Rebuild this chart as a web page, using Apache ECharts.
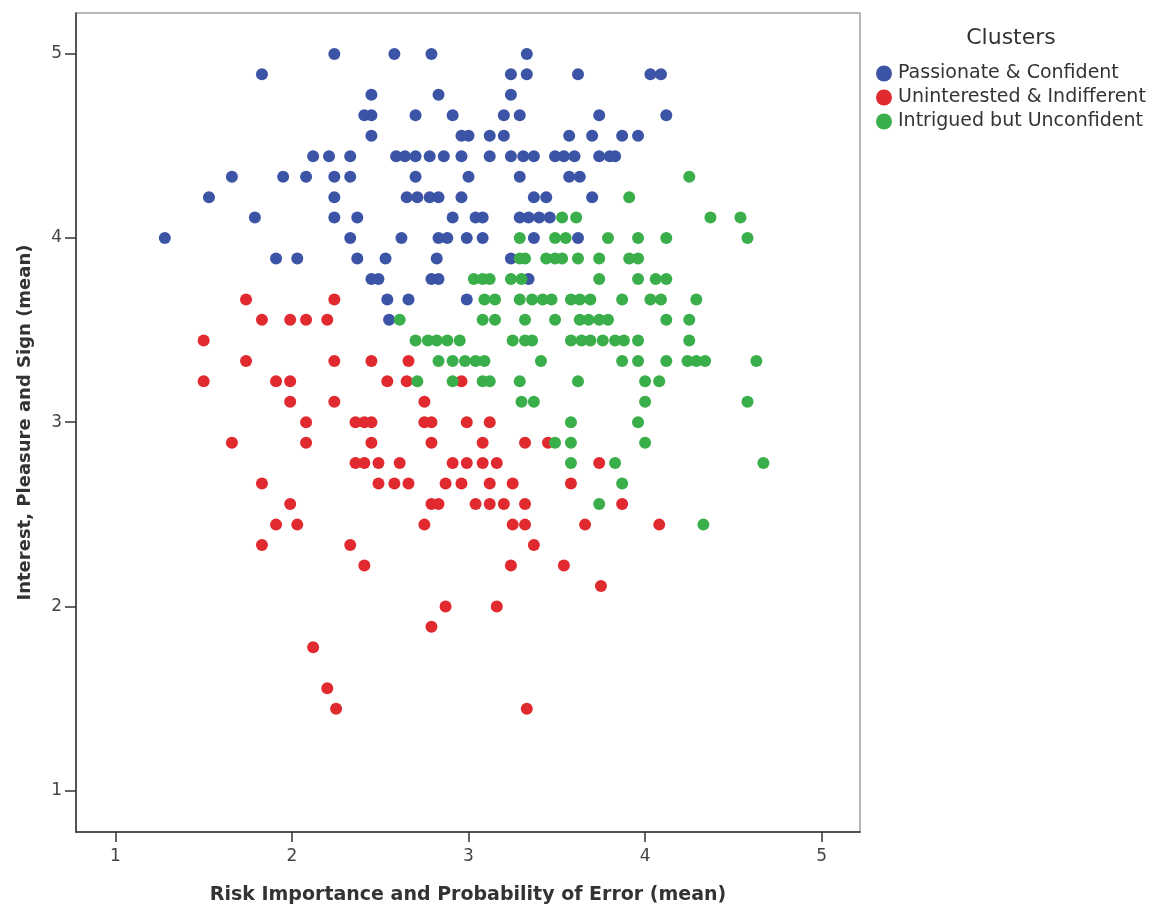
<!DOCTYPE html>
<html>
<head>
<meta charset="utf-8">
<title>Clusters scatter</title>
<script src="https://cdn.jsdelivr.net/npm/echarts@6/dist/echarts.min.js"></script>
<style>
  html, body { margin: 0; padding: 0; background: #fff; }
  #chart { width: 1155px; height: 910px; }
</style>
</head>
<body>
<div id="chart"></div>
<script>
// cluster names (legend order)
const clusterNames = ['Passionate & Confident', 'Uninterested & Indifferent', 'Intrigued but Unconfident'];
const clusterColors = ['#3c54a6', '#e12a2f', '#3aae4a'];

const xTicks = [1, 2, 3, 4, 5];
const yTicks = [1, 2, 3, 4, 5];

// [risk importance, interest] pairs, read row by row from the top
const passionate = [
  [2.24, 5], [2.58, 5], [2.79, 5], [3.33, 5],
  [1.83, 4.889], [3.24, 4.889], [3.33, 4.889], [3.62, 4.889], [4.03, 4.889], [4.09, 4.889],
  [2.45, 4.778], [2.83, 4.778], [3.24, 4.778],
  [2.41, 4.667], [2.45, 4.667], [2.70, 4.667], [2.91, 4.667], [3.20, 4.667], [3.29, 4.667], [3.74, 4.667], [4.12, 4.667],
  [2.45, 4.556], [2.96, 4.556], [3.00, 4.556], [3.12, 4.556], [3.20, 4.556], [3.57, 4.556], [3.70, 4.556], [3.87, 4.556], [3.96, 4.556],
  [2.12, 4.444], [2.21, 4.444], [2.33, 4.444], [2.59, 4.444], [2.64, 4.444], [2.70, 4.444], [2.78, 4.444], [2.86, 4.444],
  [2.96, 4.444], [3.12, 4.444], [3.24, 4.444], [3.31, 4.444], [3.37, 4.444], [3.49, 4.444], [3.54, 4.444], [3.60, 4.444],
  [3.74, 4.444], [3.80, 4.444], [3.83, 4.444],
  [1.66, 4.333], [1.95, 4.333], [2.08, 4.333], [2.24, 4.333], [2.33, 4.333], [2.70, 4.333], [3.00, 4.333], [3.29, 4.333], [3.57, 4.333], [3.63, 4.333],
  [1.53, 4.222], [2.24, 4.222], [2.65, 4.222], [2.71, 4.222], [2.78, 4.222], [2.83, 4.222], [2.96, 4.222], [3.37, 4.222], [3.44, 4.222], [3.70, 4.222],
  [1.79, 4.111], [2.24, 4.111], [2.37, 4.111], [2.91, 4.111], [3.04, 4.111], [3.08, 4.111], [3.29, 4.111], [3.34, 4.111], [3.40, 4.111], [3.46, 4.111],
  [1.28, 4], [2.33, 4], [2.62, 4], [2.83, 4], [2.88, 4], [2.99, 4], [3.08, 4], [3.37, 4], [3.62, 4],
  [1.91, 3.889], [2.03, 3.889], [2.37, 3.889], [2.53, 3.889], [2.82, 3.889], [3.24, 3.889],
  [2.45, 3.778], [2.49, 3.778], [2.79, 3.778], [2.83, 3.778], [3.34, 3.778],
  [2.54, 3.667], [2.66, 3.667], [2.99, 3.667],
  [2.55, 3.556]
];

const uninterested = [
  [1.74, 3.667], [2.24, 3.667],
  [1.83, 3.556], [1.99, 3.556], [2.08, 3.556], [2.20, 3.556],
  [1.50, 3.444],
  [1.74, 3.333], [2.24, 3.333], [2.45, 3.333], [2.66, 3.333],
  [1.50, 3.222], [1.91, 3.222], [1.99, 3.222], [2.54, 3.222], [2.65, 3.222], [2.96, 3.222],
  [1.99, 3.111], [2.24, 3.111], [2.75, 3.111],
  [2.08, 3], [2.36, 3], [2.41, 3], [2.45, 3], [2.75, 3], [2.79, 3], [2.99, 3], [3.12, 3],
  [1.66, 2.889], [2.08, 2.889], [2.45, 2.889], [2.79, 2.889], [3.08, 2.889], [3.32, 2.889], [3.45, 2.889],
  [2.36, 2.778], [2.41, 2.778], [2.49, 2.778], [2.61, 2.778], [2.91, 2.778], [2.99, 2.778], [3.08, 2.778], [3.16, 2.778], [3.74, 2.778],
  [1.83, 2.667], [2.49, 2.667], [2.58, 2.667], [2.66, 2.667], [2.87, 2.667], [2.96, 2.667], [3.12, 2.667], [3.25, 2.667], [3.58, 2.667],
  [1.99, 2.556], [2.79, 2.556], [2.83, 2.556], [3.04, 2.556], [3.12, 2.556], [3.20, 2.556], [3.32, 2.556], [3.87, 2.556],
  [1.91, 2.444], [2.03, 2.444], [2.75, 2.444], [3.25, 2.444], [3.32, 2.444], [3.66, 2.444], [4.08, 2.444],
  [1.83, 2.333], [2.33, 2.333], [3.37, 2.333],
  [2.41, 2.222], [3.24, 2.222], [3.54, 2.222],
  [3.75, 2.111],
  [2.87, 2], [3.16, 2],
  [2.79, 1.889],
  [2.12, 1.778],
  [2.20, 1.556],
  [2.25, 1.444], [3.33, 1.444]
];

const intrigued = [
  [4.25, 4.333],
  [3.91, 4.222],
  [3.53, 4.111], [3.61, 4.111], [4.37, 4.111], [4.54, 4.111],
  [3.29, 4], [3.49, 4], [3.55, 4], [3.79, 4], [3.96, 4], [4.12, 4], [4.58, 4],
  [3.29, 3.889], [3.32, 3.889], [3.44, 3.889], [3.49, 3.889], [3.53, 3.889], [3.62, 3.889], [3.74, 3.889], [3.91, 3.889], [3.96, 3.889],
  [3.03, 3.778], [3.08, 3.778], [3.12, 3.778], [3.24, 3.778], [3.30, 3.778], [3.74, 3.778], [3.96, 3.778], [4.06, 3.778], [4.12, 3.778],
  [3.09, 3.667], [3.15, 3.667], [3.29, 3.667], [3.36, 3.667], [3.42, 3.667], [3.47, 3.667], [3.58, 3.667], [3.63, 3.667],
  [3.69, 3.667], [3.87, 3.667], [4.03, 3.667], [4.09, 3.667], [4.29, 3.667],
  [2.61, 3.556], [3.08, 3.556], [3.15, 3.556], [3.32, 3.556], [3.49, 3.556], [3.63, 3.556], [3.68, 3.556], [3.74, 3.556],
  [3.79, 3.556], [4.12, 3.556], [4.25, 3.556],
  [2.70, 3.444], [2.77, 3.444], [2.82, 3.444], [2.88, 3.444], [2.95, 3.444], [3.25, 3.444], [3.32, 3.444], [3.36, 3.444],
  [3.58, 3.444], [3.64, 3.444], [3.69, 3.444], [3.76, 3.444], [3.83, 3.444], [3.88, 3.444], [3.96, 3.444], [4.25, 3.444],
  [2.83, 3.333], [2.91, 3.333], [2.98, 3.333], [3.04, 3.333], [3.09, 3.333], [3.41, 3.333], [3.87, 3.333], [3.96, 3.333],
  [4.12, 3.333], [4.24, 3.333], [4.29, 3.333], [4.34, 3.333], [4.63, 3.333],
  [2.71, 3.222], [2.91, 3.222], [3.08, 3.222], [3.12, 3.222], [3.29, 3.222], [3.62, 3.222], [4.00, 3.222], [4.08, 3.222],
  [3.30, 3.111], [3.37, 3.111], [4.00, 3.111], [4.58, 3.111],
  [3.58, 3], [3.96, 3],
  [3.49, 2.889], [3.58, 2.889], [4.00, 2.889],
  [3.58, 2.778], [3.83, 2.778], [4.67, 2.778],
  [3.87, 2.667],
  [3.74, 2.556],
  [4.33, 2.444]
];

const seriesData = [passionate, uninterested, intrigued];

const FONT = '"DejaVu Sans", sans-serif';

const buildOption = () => ({
  animation: false,
  textStyle: { fontFamily: FONT },
  title: {
    text: 'Clusters',
    left: 1006,
    top: 22,
    textAlign: 'center',
    textStyle: { fontFamily: FONT, fontSize: 22, fontWeight: 'normal', color: '#333' },
  },
  legend: {
    orient: 'vertical',
    left: 871,
    top: 59,
    itemGap: 5,
    itemWidth: 16,
    itemHeight: 16,
    icon: 'circle',
    data: clusterNames,
    textStyle: { fontFamily: FONT, fontSize: 19, color: '#333', padding: [0, 0, 0, 1] },
  },
  grid: {
    left: 76,
    right: 295,
    top: 13,
    bottom: 73,
    show: true,
    borderColor: '#a0a0a0',
    borderWidth: 1.5,
  },
  xAxis: {
    type: 'value',
    min: 0.777,
    max: 5.217,
    name: 'Risk Importance and Probability of Error (mean)',
    nameLocation: 'middle',
    nameGap: 54,
    nameTextStyle: { fontFamily: FONT, fontSize: 19, fontWeight: 'bold', color: '#333' },
    axisLine: { lineStyle: { color: '#333', width: 1.5 } },
    axisTick: { show: true, length: 10, customValues: xTicks, lineStyle: { color: '#333', width: 1.5 } },
    axisLabel: { customValues: xTicks, margin: 16, fontSize: 17, color: '#444', fontFamily: FONT },
    splitLine: { show: false },
  },
  yAxis: {
    type: 'value',
    min: 0.775,
    max: 5.222,
    name: 'Interest, Pleasure and Sign (mean)',
    nameLocation: 'middle',
    nameGap: 42,
    nameTextStyle: { fontFamily: FONT, fontSize: 18, fontWeight: 'bold', color: '#333' },
    axisLine: { show: true, lineStyle: { color: '#333', width: 1.5 } },
    axisTick: { show: true, length: 11, customValues: yTicks, lineStyle: { color: '#333', width: 1.5 } },
    axisLabel: { customValues: yTicks, margin: 14, fontSize: 17, color: '#444', fontFamily: FONT },
    splitLine: { show: false },
  },
  series: seriesData.map((data, i) => ({
    name: clusterNames[i],
    type: 'scatter',
    data,
    symbolSize: 12,
    itemStyle: { color: clusterColors[i], opacity: 1 },
  })),
});

const chart = echarts.init(document.getElementById('chart'));
chart.setOption(buildOption());
</script>
</body>
</html>
